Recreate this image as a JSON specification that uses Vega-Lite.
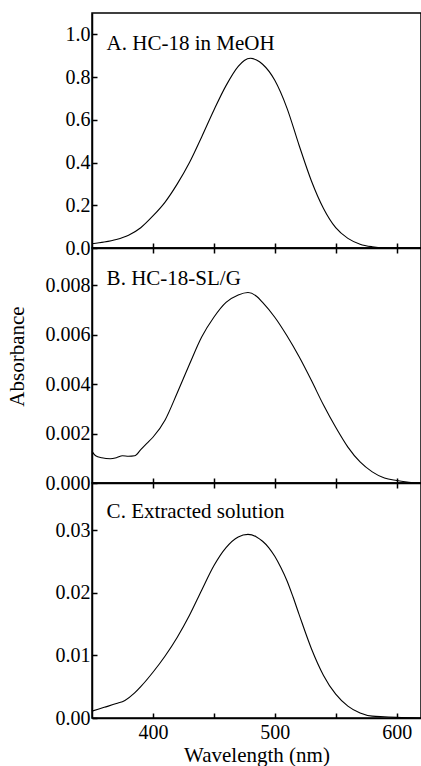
{
  "$schema": "https://vega.github.io/schema/vega-lite/v6.json",
  "padding": {"left": 5, "top": 12, "right": 0, "bottom": 0},
  "spacing": 0,
  "bounds": "flush",
  "background": "white",
  "config": {
    "font": "Liberation Serif",
    "view": {"stroke": "black", "strokeWidth": 1.5},
    "axis": {
      "grid": false,
      "domainColor": "black",
      "domainWidth": 1.5,
      "tickColor": "black",
      "tickWidth": 1.5,
      "tickSize": -5,
      "labelColor": "black",
      "labelFont": "Liberation Serif",
      "labelFontSize": 20,
      "titleFont": "Liberation Serif",
      "titleFontSize": 21,
      "titleFontWeight": "normal",
      "titleColor": "black"
    }
  },
  "datasets": {
    "a": [
      {"wavelength": 350, "absorbance": 0.020},
      {"wavelength": 360, "absorbance": 0.028},
      {"wavelength": 370, "absorbance": 0.040},
      {"wavelength": 380, "absorbance": 0.060},
      {"wavelength": 390, "absorbance": 0.095},
      {"wavelength": 400, "absorbance": 0.150},
      {"wavelength": 410, "absorbance": 0.215},
      {"wavelength": 420, "absorbance": 0.300},
      {"wavelength": 430, "absorbance": 0.400},
      {"wavelength": 440, "absorbance": 0.520},
      {"wavelength": 450, "absorbance": 0.645},
      {"wavelength": 460, "absorbance": 0.760},
      {"wavelength": 470, "absorbance": 0.850},
      {"wavelength": 475, "absorbance": 0.878},
      {"wavelength": 480, "absorbance": 0.888},
      {"wavelength": 485, "absorbance": 0.880},
      {"wavelength": 490, "absorbance": 0.860},
      {"wavelength": 500, "absorbance": 0.785},
      {"wavelength": 510, "absorbance": 0.655},
      {"wavelength": 520, "absorbance": 0.480},
      {"wavelength": 530, "absorbance": 0.315},
      {"wavelength": 540, "absorbance": 0.185},
      {"wavelength": 550, "absorbance": 0.095},
      {"wavelength": 560, "absorbance": 0.045},
      {"wavelength": 570, "absorbance": 0.018},
      {"wavelength": 580, "absorbance": 0.006},
      {"wavelength": 590, "absorbance": 0.001},
      {"wavelength": 600, "absorbance": 0.0},
      {"wavelength": 610, "absorbance": 0.0},
      {"wavelength": 620, "absorbance": 0.0}
    ],
    "b": [
      {"wavelength": 350, "absorbance": 0.00128},
      {"wavelength": 353, "absorbance": 0.00110},
      {"wavelength": 358, "absorbance": 0.00102},
      {"wavelength": 365, "absorbance": 0.00098},
      {"wavelength": 370, "absorbance": 0.00102},
      {"wavelength": 375, "absorbance": 0.00110},
      {"wavelength": 380, "absorbance": 0.00108},
      {"wavelength": 385, "absorbance": 0.00110},
      {"wavelength": 390, "absorbance": 0.00135},
      {"wavelength": 395, "absorbance": 0.00160},
      {"wavelength": 400, "absorbance": 0.00185},
      {"wavelength": 410, "absorbance": 0.00255},
      {"wavelength": 420, "absorbance": 0.00365},
      {"wavelength": 430, "absorbance": 0.00480},
      {"wavelength": 440, "absorbance": 0.00590},
      {"wavelength": 450, "absorbance": 0.00670},
      {"wavelength": 460, "absorbance": 0.00730},
      {"wavelength": 470, "absorbance": 0.00760},
      {"wavelength": 478, "absorbance": 0.00770},
      {"wavelength": 485, "absorbance": 0.00755},
      {"wavelength": 490, "absorbance": 0.00730},
      {"wavelength": 500, "absorbance": 0.00670},
      {"wavelength": 510, "absorbance": 0.00595},
      {"wavelength": 520, "absorbance": 0.00510},
      {"wavelength": 530, "absorbance": 0.00415},
      {"wavelength": 540, "absorbance": 0.00315},
      {"wavelength": 550, "absorbance": 0.00225},
      {"wavelength": 560, "absorbance": 0.00145},
      {"wavelength": 570, "absorbance": 0.00085},
      {"wavelength": 580, "absorbance": 0.00045},
      {"wavelength": 590, "absorbance": 0.00020},
      {"wavelength": 600, "absorbance": 0.00010},
      {"wavelength": 610, "absorbance": 0.00003},
      {"wavelength": 620, "absorbance": 0.0}
    ],
    "c": [
      {"wavelength": 350, "absorbance": 0.0011},
      {"wavelength": 360, "absorbance": 0.0017},
      {"wavelength": 370, "absorbance": 0.0023},
      {"wavelength": 377, "absorbance": 0.0028},
      {"wavelength": 385, "absorbance": 0.0040},
      {"wavelength": 390, "absorbance": 0.0050},
      {"wavelength": 400, "absorbance": 0.0073},
      {"wavelength": 410, "absorbance": 0.0099},
      {"wavelength": 420, "absorbance": 0.0129},
      {"wavelength": 430, "absorbance": 0.0164},
      {"wavelength": 440, "absorbance": 0.0204},
      {"wavelength": 450, "absorbance": 0.0243},
      {"wavelength": 460, "absorbance": 0.0272},
      {"wavelength": 470, "absorbance": 0.0289},
      {"wavelength": 478, "absorbance": 0.0293},
      {"wavelength": 485, "absorbance": 0.0289},
      {"wavelength": 490, "absorbance": 0.0282},
      {"wavelength": 495, "absorbance": 0.0272},
      {"wavelength": 500, "absorbance": 0.0258},
      {"wavelength": 505, "absorbance": 0.0240},
      {"wavelength": 510, "absorbance": 0.0219},
      {"wavelength": 515, "absorbance": 0.0193},
      {"wavelength": 520, "absorbance": 0.0165},
      {"wavelength": 530, "absorbance": 0.0111},
      {"wavelength": 540, "absorbance": 0.0068},
      {"wavelength": 550, "absorbance": 0.0038},
      {"wavelength": 560, "absorbance": 0.0019},
      {"wavelength": 570, "absorbance": 0.0008},
      {"wavelength": 580, "absorbance": 0.0003},
      {"wavelength": 590, "absorbance": 0.0002},
      {"wavelength": 600, "absorbance": 0.0001},
      {"wavelength": 620, "absorbance": 0.0}
    ],
    "labels": [
      {"panel": "A", "label": "A. HC-18 in MeOH"},
      {"panel": "B", "label": "B. HC-18-SL/G"},
      {"panel": "C", "label": "C. Extracted solution"}
    ]
  },
  "vconcat": [
    {
      "width": 329,
      "height": 235,
      "layer": [
        {
          "data": {"name": "a"},
          "mark": {"type": "line", "color": "black", "strokeWidth": 1.1, "interpolate": "monotone"},
          "encoding": {
            "x": {
              "field": "wavelength", "type": "quantitative",
              "scale": {"domain": [350, 620], "nice": false, "zero": false},
              "axis": {
                "orient": "bottom", "title": null, "labels": false,
                "values": [400, 450, 500, 550, 600]
              }
            },
            "y": {
              "field": "absorbance", "type": "quantitative",
              "scale": {"domain": [0, 1.1], "nice": false, "zero": false},
              "axis": {
                "title": null,
                "values": [0, 0.1, 0.2, 0.3, 0.4, 0.5, 0.6, 0.7, 0.8, 0.9, 1.0],
                "format": ".1f",
                "labelExpr": "round(datum.value * 10) % 2 === 0 ? datum.label : ''",
                "labelPadding": 7
              }
            }
          }
        },
        {
          "data": {"name": "labels"},
          "transform": [{"filter": "datum.panel === 'A'"}],
          "mark": {"type": "text", "align": "left", "baseline": "middle", "font": "Liberation Serif", "fontSize": 21, "color": "black"},
          "encoding": {
            "x": {"datum": 362, "type": "quantitative"},
            "y": {"datum": 0.955, "type": "quantitative"},
            "text": {"field": "label"}
          }
        }
      ]
    },
    {
      "width": 329,
      "height": 235,
      "resolve": {"axis": {"x": "independent"}},
      "layer": [
        {
          "data": {"name": "b"},
          "mark": {"type": "line", "color": "black", "strokeWidth": 1.1, "interpolate": "monotone"},
          "encoding": {
            "x": {
              "field": "wavelength", "type": "quantitative",
              "scale": {"domain": [350, 620], "nice": false, "zero": false},
              "axis": {
                "orient": "bottom", "title": null, "labels": false,
                "values": [400, 450, 500, 550, 600]
              }
            },
            "y": {
              "field": "absorbance", "type": "quantitative",
              "scale": {"domain": [0, 0.0095], "nice": false, "zero": false},
              "axis": {
                "title": "Absorbance",
                "titlePadding": 18,
                "titleY": 108,
                "values": [0, 0.001, 0.002, 0.003, 0.004, 0.005, 0.006, 0.007, 0.008, 0.009],
                "format": ".3f",
                "labelExpr": "round(datum.value * 1000) % 2 === 0 ? datum.label : ''",
                "labelPadding": 7
              }
            }
          }
        },
        {
          "data": {"name": "labels"},
          "transform": [{"filter": "datum.panel === 'B'"}],
          "mark": {"type": "text", "align": "left", "baseline": "middle", "font": "Liberation Serif", "fontSize": 21, "color": "black"},
          "encoding": {
            "x": {
              "datum": 362, "type": "quantitative",
              "axis": {
                "orient": "top", "title": null, "labels": false, "domain": false,
                "values": [400, 450, 500, 550, 600]
              }
            },
            "y": {"datum": 0.00825, "type": "quantitative"},
            "text": {"field": "label"}
          }
        }
      ]
    },
    {
      "width": 329,
      "height": 235,
      "resolve": {"axis": {"x": "independent"}},
      "layer": [
        {
          "data": {"name": "c"},
          "mark": {"type": "line", "color": "black", "strokeWidth": 1.1, "interpolate": "monotone"},
          "encoding": {
            "x": {
              "field": "wavelength", "type": "quantitative",
              "scale": {"domain": [350, 620], "nice": false, "zero": false},
              "axis": {
                "orient": "bottom", "title": "Wavelength (nm)", "titlePadding": 2,
                "values": [400, 450, 500, 550, 600],
                "labelExpr": "datum.value % 100 === 0 ? datum.label : ''",
                "labelPadding": 9
              }
            },
            "y": {
              "field": "absorbance", "type": "quantitative",
              "scale": {"domain": [0, 0.0375], "nice": false, "zero": false},
              "axis": {
                "title": null,
                "values": [0, 0.005, 0.01, 0.015, 0.02, 0.025, 0.03, 0.035],
                "format": ".2f",
                "labelExpr": "round(datum.value * 200) % 2 === 0 ? datum.label : ''",
                "labelPadding": 7
              }
            }
          }
        },
        {
          "data": {"name": "labels"},
          "transform": [{"filter": "datum.panel === 'C'"}],
          "mark": {"type": "text", "align": "left", "baseline": "middle", "font": "Liberation Serif", "fontSize": 21, "color": "black"},
          "encoding": {
            "x": {
              "datum": 362, "type": "quantitative",
              "axis": {
                "orient": "top", "title": null, "labels": false, "domain": false,
                "values": [400, 450, 500, 550, 600]
              }
            },
            "y": {"datum": 0.03285, "type": "quantitative"},
            "text": {"field": "label"}
          }
        }
      ]
    }
  ]
}
